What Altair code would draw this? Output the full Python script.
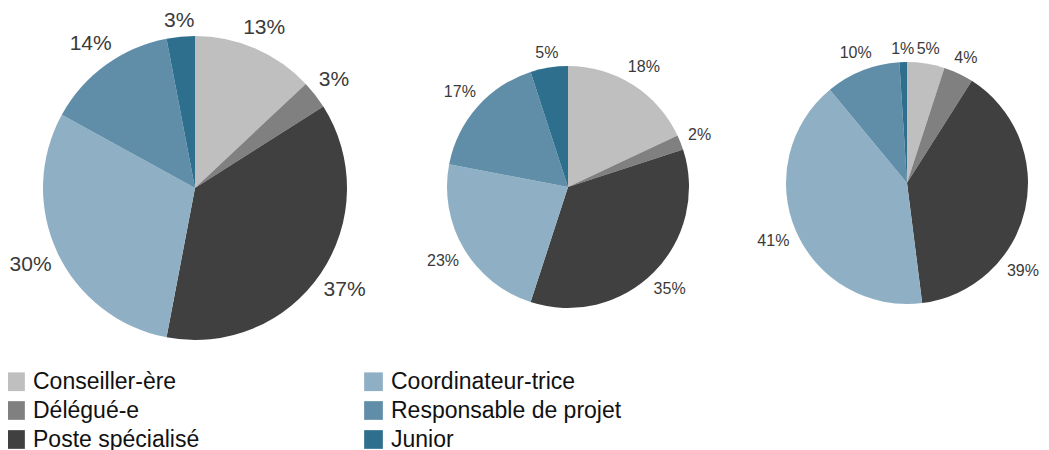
import altair as alt
import pandas as pd

categories = ["Conseiller-ère", "Délégué-e", "Poste spécialisé",
              "Coordinateur-trice", "Responsable de projet", "Junior"]
colors = ["#bfbfbf", "#808080", "#404040", "#8fb0c4", "#608ea8", "#2e6f8e"]
pie1_values = [13, 3, 37, 30, 14, 3]
pie2_values = [18, 2, 35, 23, 17, 5]
pie3_values = [5, 4, 39, 41, 10, 1]

FONT = "Liberation Sans"
W, H = 1033, 442

color = alt.Color(
    "cat:N",
    scale=alt.Scale(domain=categories, range=colors),
    title=None,
    legend=alt.Legend(
        orient="none", legendX=-4, legendY=362, columns=2,
        columnPadding=162, rowPadding=5, symbolType="square",
        symbolSize=350, symbolStrokeWidth=0, symbolOpacity=1,
        labelFontSize=23, labelFont=FONT, labelColor="#111111",
        labelOffset=6, labelLimit=400, padding=0,
    ),
)


def frame(values):
    return pd.DataFrame({
        "cat": categories,
        "value": values,
        "order": list(range(len(categories))),
        "label": [f"{v}%" for v in values],
    })


def pie(values, cx, cy, r, font_size, base_gap):
    df = frame(values)
    arc = alt.Chart(df).mark_arc(radius=r, stroke=None).encode(
        theta=alt.Theta("value:Q", stack=True),
        order=alt.Order("order:Q"),
        color=color,
        x=alt.value(cx),
        y=alt.value(cy),
    )
    # labels placed just outside the rim, like the spreadsheet's "outside end"
    hw = f"({font_size}*(0.556*(length(datum.label)-1)+0.889)/2)"
    hh = f"({font_size}*0.3)"
    xmax = W - 2
    txt = alt.Chart(df).transform_window(
        cum="sum(value)", sort=[alt.SortField("order")], frame=[None, 0]
    ).transform_joinaggregate(
        total="sum(value)"
    ).transform_calculate(
        mid="2*PI*(datum.cum - datum.value/2)/datum.total"
    ).transform_calculate(
        rr=f"{r}+{base_gap}+{hw}*abs(sin(datum.mid))+{hh}*abs(cos(datum.mid))"
    ).transform_calculate(
        lim=f"({xmax}-{hw}-{cx})/datum.rr"
    ).transform_calculate(
        ang=("sin(datum.mid) > datum.lim ? "
             "(datum.mid < PI/2 ? asin(datum.lim) : PI - asin(datum.lim)) : datum.mid")
    ).transform_calculate(
        tx=f"{cx} + datum.rr*sin(datum.ang)",
        ty=f"{cy} - datum.rr*cos(datum.ang)",
    ).mark_text(
        fontSize=font_size, font=FONT, color="#3a3a3a",
        align="center", baseline="middle",
    ).encode(
        x=alt.X("tx:Q", scale=None, axis=None),
        y=alt.Y("ty:Q", scale=None, axis=None),
        text="label:N",
    )
    return arc + txt


chart = alt.layer(
    pie(pie1_values, 187, 180, 152, 21, 8),
    pie(pie2_values, 560, 179, 121, 16, 8),
    pie(pie3_values, 899, 175, 121, 16, 8),
).properties(
    width=W, height=H,
    autosize=alt.AutoSizeParams(type="none"),
    padding=0,
).configure_view(stroke=None)

chart.save("out.html", embed_options={"renderer": "svg", "actions": False})
